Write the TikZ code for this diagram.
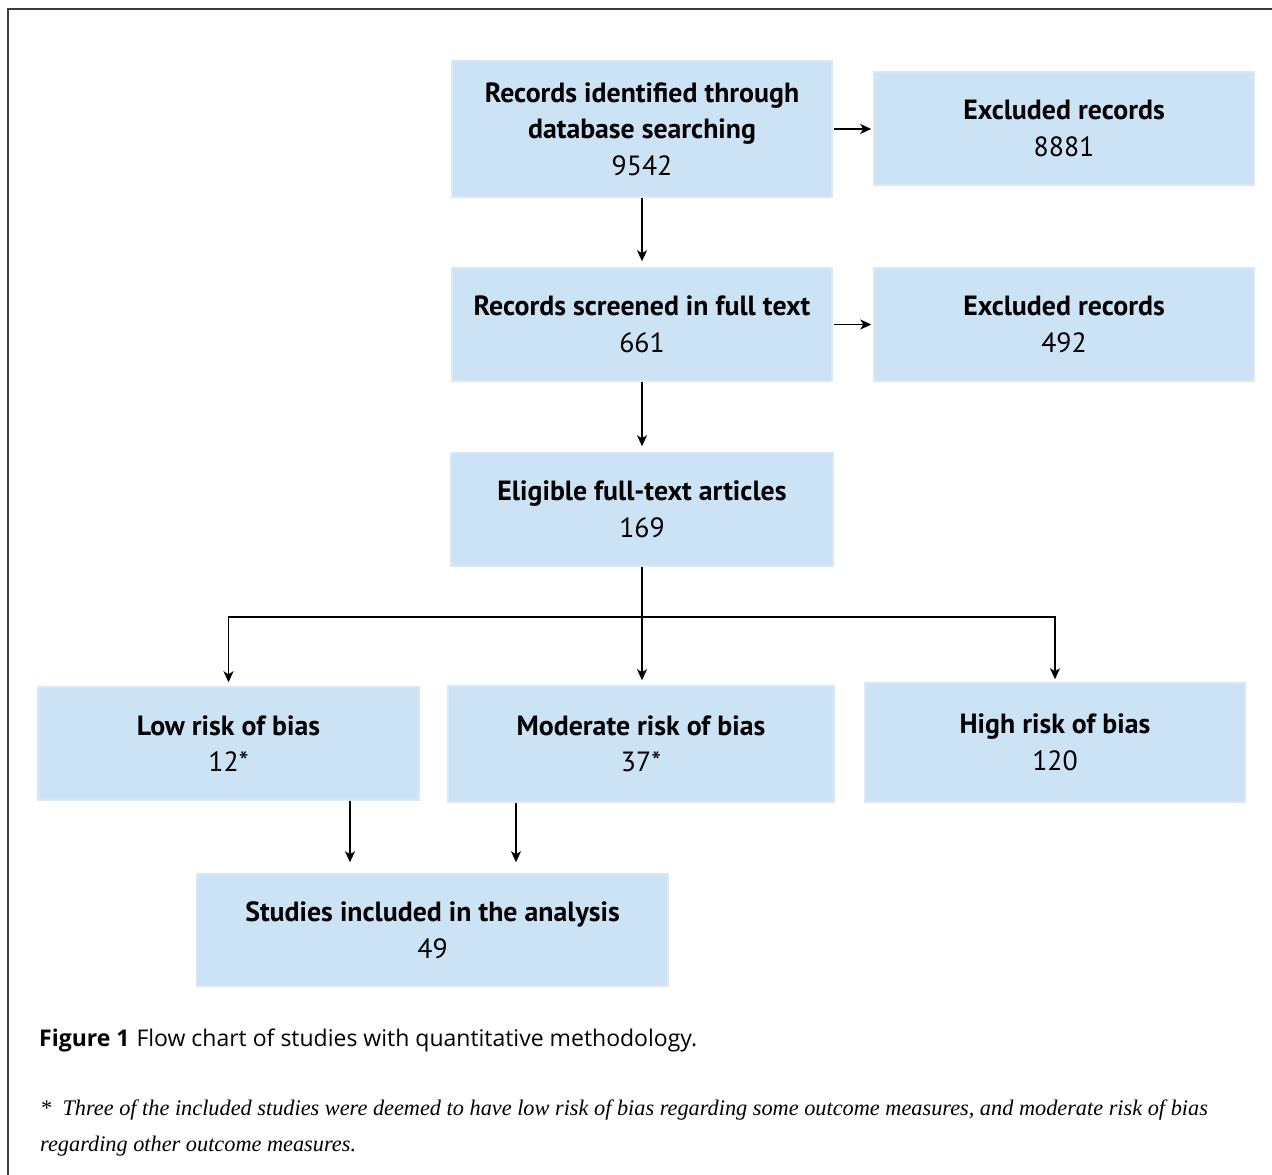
\documentclass[tikz,border=0pt]{standalone}
\usepackage{fontspec}
\setmainfont{Liberation Serif}
\newfontfamily\boxfont{PT Sans}
\newfontfamily\capfont{Open Sans}
\usetikzlibrary{arrows.meta}
\definecolor{boxfill}{RGB}{204,226,245}
\definecolor{boxline}{RGB}{218,232,246}
\definecolor{framecol}{RGB}{60,60,60}
\tikzset{
  flowbox/.style={draw=boxline, line width=1.5pt, fill=boxfill, align=center,
    inner sep=0pt, font=\boxfont\fontsize{27.8}{36.5}\selectfont},
  arr/.style={-{Stealth[length=11pt,width=10pt,inset=3pt]}, line width=1.6pt, black},
  ln/.style={line width=1.6pt, black}
}
\begin{document}
\begin{tikzpicture}[x=1pt,y=-1pt]
\useasboundingbox (0,0) rectangle (1272,1175);
\draw[line width=2pt, framecol] (1272,9) -- (8,9) -- (8,1176);

\node[flowbox, minimum width=380pt, minimum height=136pt] (b1) at (642,129)
  {\textbf{Records identified through}\\\textbf{database searching}\\9542};
\node[flowbox, minimum width=380pt, minimum height=113pt] (e1) at (1064,128.5)
  {\textbf{Excluded records}\\8881};
\node[flowbox, minimum width=380pt, minimum height=113pt] (b2) at (642,324.5)
  {\textbf{Records screened in full text}\\661};
\node[flowbox, minimum width=380pt, minimum height=113pt] (e2) at (1064,324.5)
  {\textbf{Excluded records}\\492};
\node[flowbox, minimum width=382pt, minimum height=113pt] (b3) at (642,509.5)
  {\textbf{Eligible full-text articles}\\169};
\node[flowbox, minimum width=381pt, minimum height=113pt] (low) at (228.5,743.5)
  {\textbf{Low risk of bias}\\12*};
\node[flowbox, minimum width=386pt, minimum height=116pt] (mod) at (641,744)
  {\textbf{Moderate risk of bias}\\37*};
\node[flowbox, minimum width=380pt, minimum height=119pt] (high) at (1055,742.5)
  {\textbf{High risk of bias}\\120};
\node[flowbox, minimum width=471pt, minimum height=112pt] (st) at (432.5,930)
  {\textbf{Studies included in the analysis}\\49};

\draw[arr, shorten <=1pt, shorten >=2pt] (b1.east) -- (e1.west |- b1.east);
\draw[arr, shorten >=6pt] (b1.south) -- (b2.north);
\draw[arr, shorten <=1pt, shorten >=2pt] (b2.east) -- (e2.west);
\draw[arr, shorten >=6pt] (b2.south) -- (b3.north);
\coordinate (br) at (642,617);
\draw[ln] (b3.south) -- (br);
\draw[arr, shorten >=4pt] (br) -| (low.north);
\draw[arr, shorten >=5pt] (br) -- (br |- mod.north);
\draw[arr, shorten >=3pt] (br) -| (high.north);
\draw[arr, shorten >=11pt] ([xshift=121.5pt]low.south) -- ([xshift=121.5pt]low.south |- st.north);
\draw[arr, shorten >=11pt] ([xshift=-125pt]mod.south) -- ([xshift=-125pt]mod.south |- st.north);

\node[anchor=base west, inner sep=0pt, font=\capfont\fontsize{23}{28}\selectfont] (cap) at (39,1046)
  {\textbf{Figure 1}\hspace{0.3em}Flow chart of studies with quantitative methodology.};
\node[anchor=base west, inner sep=0pt, align=left, font=\itshape\fontsize{22.3}{35.5}\selectfont] (fn) at (40,1151)
  {*\hspace{0.5em}Three of the included studies were deemed to have low risk of bias regarding some outcome measures, and moderate risk of bias\\regarding other outcome measures.};
\end{tikzpicture}
\end{document}
